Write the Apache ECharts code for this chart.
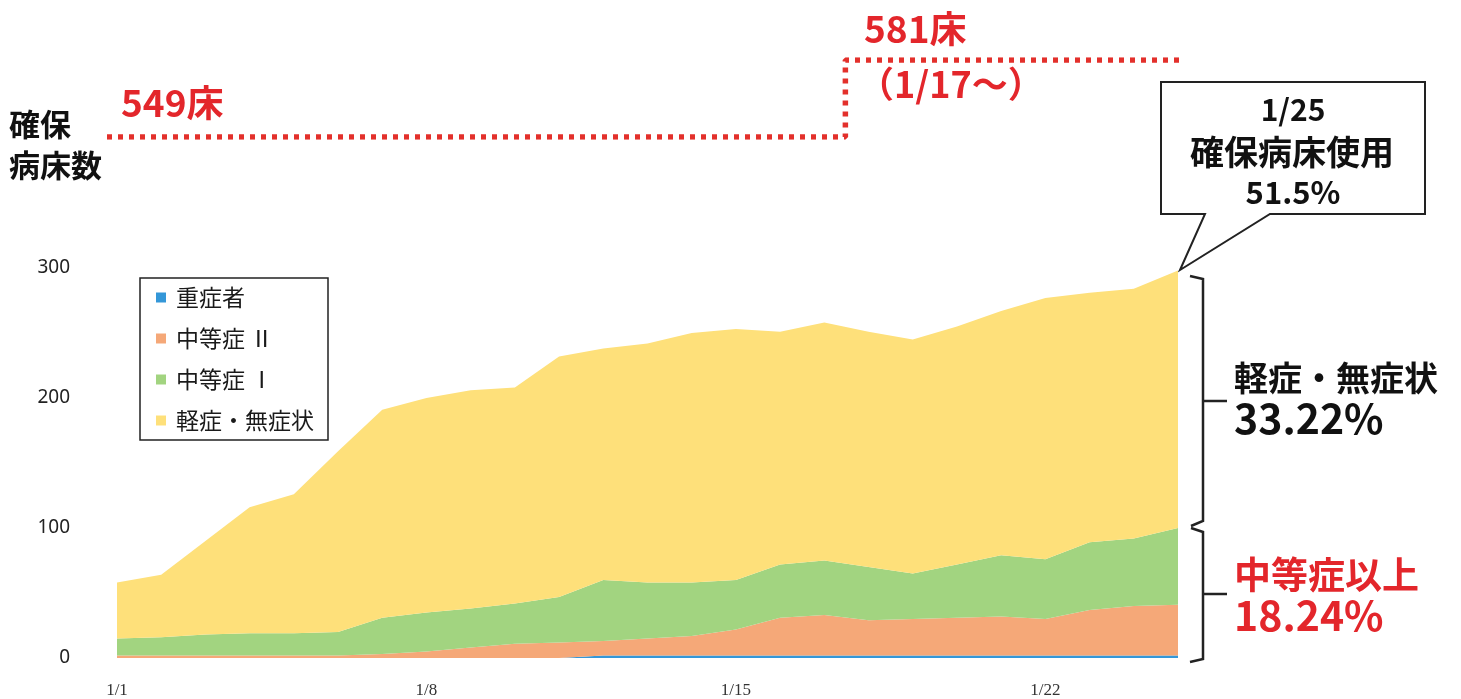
<!DOCTYPE html>
<html>
<head>
    <meta charset="utf-8">
    <title>確保病床数</title>
    <script src="https://cdn.jsdelivr.net/npm/echarts/dist/echarts.min.js"></script>
    <style>
        html, body { margin: 0; padding: 0; background: #fff; }
        #chart1 { width: 1461px; height: 699px; }
    </style>
</head>
<body>
<div id="chart1"></div>
<script type="text/javascript">
    // 日付 1/1 ～ 1/25
    var days = ['1/1','1/2','1/3','1/4','1/5','1/6','1/7','1/8','1/9','1/10','1/11','1/12','1/13',
        '1/14','1/15','1/16','1/17','1/18','1/19','1/20','1/21','1/22','1/23','1/24','1/25'];

    // 入院者数（症状別）
    var severe    = [0,0,0,0,0,0,0,0,0,0,0,2,2,2,2,2,2,2,2,2,2,2,2,2,2];
    var moderate2 = [2,2,2,2,2,2,3,5,8,11,12,11,13,15,20,29,31,27,28,29,30,28,35,38,39];
    var moderate1 = [13,14,16,17,17,18,28,30,30,31,35,47,43,41,38,41,42,41,35,41,47,46,52,52,59];
    var mild      = [43,48,72,97,107,139,160,165,168,166,185,178,184,192,193,179,183,181,180,183,188,201,192,192,198];

    // 確保病床数（549床 → 581床）
    var beds = [549,549,549,549,549,549,549,549,549,549,549,549,549,549,549,549,549,581,581,581,581,581,581,581,581];

    var yTicks = [0, 100, 200, 300];

    var myChart1 = echarts.init(document.getElementById('chart1'));

    var jp = '"Noto Sans CJK JP", "Noto Sans", sans-serif';

    function areaSeries(name, data, color) {
        return {
            name: name,
            type: 'line',
            stack: 'total',
            data: data,
            symbol: 'none',
            lineStyle: { width: 0 },
            areaStyle: { color: color, opacity: 1 },
            itemStyle: { color: color },
            xAxisIndex: 0,
            yAxisIndex: 0
        };
    }

    myChart1.setOption({
        backgroundColor: '#fff',
        animation: false,
        textStyle: { fontFamily: jp },
        legend: {
            orient: 'vertical',
            left: 140,
            top: 278,
            padding: [8, 14, 8, 16],
            itemGap: 18,
            itemWidth: 10,
            itemHeight: 10,
            icon: 'rect',
            borderColor: '#222',
            borderWidth: 1.5,
            backgroundColor: '#fff',
            textStyle: { fontSize: 23, color: '#1a1a1a', fontFamily: jp, padding: [0, 0, 0, 5] },
            data: ['重症者', '中等症 Ⅱ', '中等症 Ⅰ', '軽症・無症状']
        },
        grid: [
            { left: 117, right: 283, top: 268, bottom: 41 },
            { left: 107, right: 280, top: 60, height: 77 }
        ],
        xAxis: [{
            type: 'category',
            gridIndex: 0,
            data: days,
            boundaryGap: false,
            axisLine: { show: false },
            axisTick: { show: false },
            axisLabel: {
                interval: 6,
                margin: 24,
                fontSize: 17,
                color: '#333',
                fontFamily: '"Liberation Serif", serif'
            }
        }, {
            type: 'category',
            gridIndex: 1,
            data: days,
            boundaryGap: false,
            show: false
        }],
        yAxis: [{
            type: 'value',
            gridIndex: 0,
            min: yTicks[0],
            max: yTicks[yTicks.length - 1],
            interval: 100,
            axisLine: { show: false },
            axisTick: { show: false },
            splitLine: { show: false },
            axisLabel: { margin: 47, fontSize: 19, color: '#222', fontFamily: '"Noto Sans", sans-serif' }
        }, {
            type: 'value',
            gridIndex: 1,
            min: 549,
            max: 581,
            show: false
        }],
        series: [
            areaSeries('重症者', severe, '#3497D8'),
            areaSeries('中等症 Ⅱ', moderate2, '#F5A878'),
            areaSeries('中等症 Ⅰ', moderate1, '#A2D480'),
            areaSeries('軽症・無症状', mild, '#FEE07A'),
            {
                name: '確保病床数',
                type: 'line',
                xAxisIndex: 1,
                yAxisIndex: 1,
                data: beds,
                step: 'middle',
                symbol: 'none',
                lineStyle: { color: '#E3302B', width: 5.5, type: [5, 6], cap: 'butt' }
            }
        ],
        graphic: [
            // 左上の見出し
            { type: 'text', left: 9, top: 104, style: { text: '確保\n病床数', fontSize: 31, fontWeight: 'bold', lineHeight: 41, fill: '#111', fontFamily: jp } },
            { type: 'text', left: 121, top: 84, style: { text: '549床', fontSize: 37, fontWeight: 'bold', fill: '#E3262B', fontFamily: jp } },
            { type: 'text', left: 864, top: 10, style: { text: '581床', fontSize: 37, fontWeight: 'bold', fill: '#E3262B', fontFamily: jp } },
            { type: 'text', left: 858, top: 66, style: { text: '（1/17～）', fontSize: 36, fontWeight: 'bold', fill: '#E3262B', fontFamily: jp } },
            // 吹き出し
            {
                type: 'polygon',
                shape: { points: [[1161, 82], [1425, 82], [1425, 214], [1270, 214], [1180, 270], [1205, 214], [1161, 214]] },
                style: { fill: '#fff', stroke: '#222', lineWidth: 2 }
            },
            { type: 'text', x: 1293, y: 110, style: { text: '1/25', fontSize: 30, fontWeight: 'bold', fill: '#111', align: 'center', verticalAlign: 'middle', fontFamily: jp } },
            { type: 'text', x: 1292, y: 152, style: { text: '確保病床使用', fontSize: 34, fontWeight: 'bold', fill: '#111', align: 'center', verticalAlign: 'middle', fontFamily: jp } },
            { type: 'text', x: 1293, y: 192, style: { text: '51.5%', fontSize: 31, fontWeight: 'bold', fill: '#111', align: 'center', verticalAlign: 'middle', fontFamily: jp } },
            // 右側の括弧
            { type: 'polyline', shape: { points: [[1190, 276], [1203, 279], [1203, 521], [1191, 526]] }, style: { stroke: '#222', lineWidth: 2.5, fill: null } },
            { type: 'line', shape: { x1: 1203, y1: 401, x2: 1227, y2: 401 }, style: { stroke: '#222', lineWidth: 2.5 } },
            { type: 'polyline', shape: { points: [[1191, 528], [1203, 532], [1203, 659], [1190, 662]] }, style: { stroke: '#222', lineWidth: 2.5, fill: null } },
            { type: 'line', shape: { x1: 1203, y1: 594, x2: 1227, y2: 594 }, style: { stroke: '#222', lineWidth: 2.5 } },
            { type: 'text', left: 1234, top: 361, style: { text: '軽症・無症状', fontSize: 34, fontWeight: 'bold', fill: '#111', fontFamily: jp } },
            { type: 'text', left: 1234, top: 398, style: { text: '33.22%', fontSize: 41, fontWeight: 'bold', fill: '#111', fontFamily: jp } },
            { type: 'text', left: 1234, top: 556, style: { text: '中等症以上', fontSize: 37, fontWeight: 'bold', fill: '#E3262B', fontFamily: jp } },
            { type: 'text', left: 1234, top: 595, style: { text: '18.24%', fontSize: 41, fontWeight: 'bold', fill: '#E3262B', fontFamily: jp } }
        ]
    });
</script>
</body>
</html>
